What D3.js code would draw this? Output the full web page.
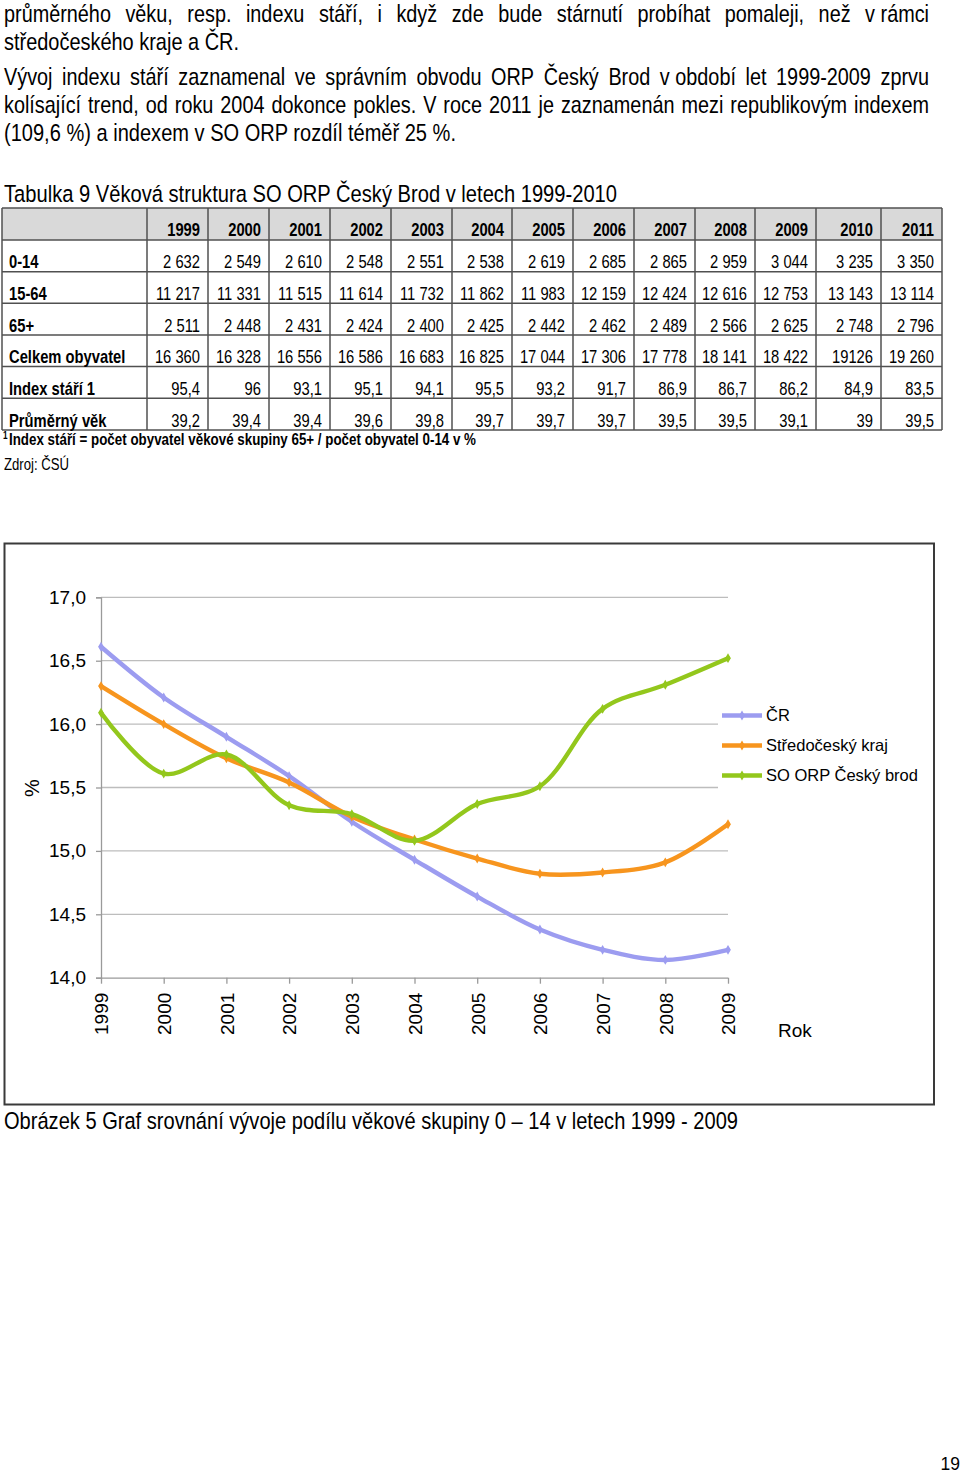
<!DOCTYPE html>
<html><head><meta charset="utf-8">
<script src="https://cdn.jsdelivr.net/npm/d3@7"></script>
<style>
html,body{margin:0;padding:0;background:#fff;}
svg{display:block;}
</style></head><body>
<svg id="page" width="960" height="1477"></svg>
<script>
// ---------- DATA ----------
const paragraphLines = [
  "průměrného věku, resp. indexu stáří, i když zde bude stárnutí probíhat pomaleji, než v\u00a0rámci",
  "středočeského kraje a ČR.",
  "Vývoj indexu stáří zaznamenal ve správním obvodu ORP Český Brod v\u00a0období let 1999-2009 zprvu",
  "kolísající trend, od roku 2004 dokonce pokles. V roce 2011 je zaznamenán mezi republikovým indexem",
  "(109,6 %) a indexem v SO ORP rozdíl téměř 25 %."
];
const tableTitle = "Tabulka 9 Věková struktura SO ORP Český Brod v letech 1999-2010";
const tableYears = ["1999","2000","2001","2002","2003","2004","2005","2006","2007","2008","2009","2010","2011"];
const rowLabels = ["0-14","15-64","65+","Celkem obyvatel","Index stáří 1","Průměrný věk"];
const rowAge0_14 = ["2 632","2 549","2 610","2 548","2 551","2 538","2 619","2 685","2 865","2 959","3 044","3 235","3 350"];
const rowAge15_64 = ["11 217","11 331","11 515","11 614","11 732","11 862","11 983","12 159","12 424","12 616","12 753","13 143","13 114"];
const rowAge65 = ["2 511","2 448","2 431","2 424","2 400","2 425","2 442","2 462","2 489","2 566","2 625","2 748","2 796"];
const rowTotal = ["16 360","16 328","16 556","16 586","16 683","16 825","17 044","17 306","17 778","18 141","18 422","19126","19 260"];
const rowIndex = [95.4, 96, 93.1, 95.1, 94.1, 95.5, 93.2, 91.7, 86.9, 86.7, 86.2, 84.9, 83.5];
const rowAvgAge = [39.2, 39.4, 39.4, 39.6, 39.8, 39.7, 39.7, 39.7, 39.5, 39.5, 39.1, 39, 39.5];
const footnoteMark = "1";
const footnote = "Index stáří = počet obyvatel věkové skupiny 65+ / počet obyvatel 0-14 v %";
const sourceText = "Zdroj: ČSÚ";
const captionText = "Obrázek 5 Graf srovnání vývoje podílu věkové skupiny 0 – 14 v letech 1999 - 2009";
const pageNumber = "19";

const chartYears = ["1999","2000","2001","2002","2003","2004","2005","2006","2007","2008","2009"];
const seriesNames = ["ČR","Středočeský kraj","SO ORP Český brod"];
const crValues  = [16.61,16.21,15.90,15.59,15.23,14.93,14.64,14.38,14.22,14.14,14.22];
const stcValues = [16.30,16.00,15.73,15.54,15.27,15.09,14.94,14.82,14.83,14.91,15.21];
const orpValues = [16.09,15.61,15.76,15.36,15.29,15.08,15.37,15.51,16.12,16.31,16.52];
const seriesColors = ["#9c9cf0","#f7951e","#93c71c"];
const yTicks = [14.0,14.5,15.0,15.5,16.0,16.5,17.0];
const yLabel = "%";
const xLabel = "Rok";

// ---------- HELPERS ----------
const REG = "'Liberation Sans',Arial,sans-serif";
const SX = 0.82; // Arial Narrow ~ Arial scaled horizontally
const svg = d3.select("#page");
svg.append("rect").attr("width",960).attr("height",1477).attr("fill","#fff");

function ntext(parent, x, y, str, size, opts={}){
  const t = parent.append("text")
    .attr("transform",`translate(${x},${y}) scale(${SX},1)`)
    .attr("font-family",REG).attr("font-size",size).attr("fill","#000")
    .attr("text-anchor",opts.anchor||"start")
    .attr("font-weight",opts.bold?"bold":"normal")
    .attr("xml:space","preserve");
  t.text(str);
  if (opts.width) t.attr("textLength", opts.width/SX).attr("lengthAdjust","spacingAndGlyphs");
  return t;
}
function justified(parent, x, y, str, size, width){
  const t = parent.append("text")
    .attr("transform",`translate(${x},${y}) scale(${SX},1)`)
    .attr("font-family",REG).attr("font-size",size).attr("fill","#000")
    .attr("xml:space","preserve");
  const words = str.split(" ");
  const spans = words.map(w=>t.append("tspan").attr("x",0).text(w));
  const widths = spans.map(s=>s.node().getComputedTextLength());
  const total = d3.sum(widths);
  const minGap = size*0.2;
  let gap = (width/SX - total)/(words.length-1);
  let k = 1;
  if (gap < minGap) { gap = minGap; k = (width/SX)/(total + gap*(words.length-1)); }
  let cx = 0;
  spans.forEach((s,i)=>{ s.attr("x",cx*k); cx += widths[i] + gap; });
  if (k !== 1) t.attr("transform",`translate(${x},${y}) scale(${SX*k},1)`).selectAll("tspan").attr("x",function(){return +this.getAttribute("x")/k;});
  return t;
}

// ---------- TEXT ----------
const PARA = 24.2;
const paraBase = [22, 50, 85, 113, 141];
const paraWidth = [925, 235, 925, 925, 452];
const paraJust = [true, false, true, true, false];
paragraphLines.forEach((s,i)=>{
  if (paraJust[i]) justified(svg, 4, paraBase[i], s, PARA, paraWidth[i]);
  else ntext(svg, 4, paraBase[i], s, PARA, {width: paraWidth[i]});
});

ntext(svg, 4, 202, tableTitle, 23.5, {width: 613});

// ---------- TABLE ----------
const colX = [2,147,208,269,330,391,452,512,573,634,695,755,816,881,942];
const rowY = [208,240,271.7,303.3,335,366.5,398.3,430];
const fmtDec = v => String(v).replace(".", ",");
const rows = [rowAge0_14, rowAge15_64, rowAge65, rowTotal, rowIndex.map(fmtDec), rowAvgAge.map(fmtDec)];
const tbl = svg.append("g");
tbl.append("rect").attr("x",colX[0]).attr("y",rowY[0]).attr("width",colX[colX.length-1]-colX[0])
  .attr("height",rowY[1]-rowY[0]).attr("fill","#d9d9d9");
rowY.forEach(y=>tbl.append("line").attr("x1",colX[0]).attr("x2",colX[colX.length-1])
  .attr("y1",y).attr("y2",y).attr("stroke","#505050").attr("stroke-width",1.5));
colX.forEach(x=>tbl.append("line").attr("x1",x).attr("x2",x)
  .attr("y1",rowY[0]).attr("y2",rowY[rowY.length-1]).attr("stroke","#505050").attr("stroke-width",1.5));
tableYears.forEach((yr,i)=>{
  ntext(tbl, colX[i+2]-8, rowY[1]-4, yr, 18, {anchor:"end", bold:true});
});
rowLabels.forEach((lab,r)=>{
  const yb = rowY[r+2]-3.5;
  ntext(tbl, 9, yb, lab, 18, {bold:true});
  rows[r].forEach((v,i)=>{
    ntext(tbl, colX[i+2]-8, yb, v, 18, {anchor:"end"});
  });
});
ntext(svg, 3, 439, footnoteMark, 10, {bold:true});
ntext(svg, 9, 445, footnote, 16.5, {bold:true, width: 467});
ntext(svg, 4, 470, sourceText, 16, {width: 65});

// ---------- CHART ----------
svg.append("rect").attr("x",4.5).attr("y",543.5).attr("width",929.5).attr("height",561)
  .attr("fill","#fff").attr("stroke","#3a3a3a").attr("stroke-width",2);

const x = d3.scalePoint().domain(chartYears).range([101, 728]);
const y = d3.scaleLinear().domain([14,17]).range([977.7, 597.3]);

const gGrid = svg.append("g");
yTicks.filter(v=>v>14).forEach(v=>{
  gGrid.append("line").attr("x1",101).attr("x2",728).attr("y1",y(v)).attr("y2",y(v))
    .attr("stroke","#bdbdbd").attr("stroke-width",1.3);
});

const yAxis = d3.axisLeft(y).tickValues(yTicks).tickSize(5).tickPadding(10)
  .tickFormat(d=>d3.format(".1f")(d).replace(".",","));
const gy = svg.append("g").attr("transform","translate(101,0)").call(yAxis);
gy.select(".domain").attr("stroke","#9a9a9a").attr("stroke-width",1.3);
gy.selectAll(".tick line").attr("stroke","#9a9a9a").attr("stroke-width",1.3);
gy.selectAll(".tick text").attr("font-family",REG).attr("font-size",19).attr("fill","#000");

const xAxis = d3.axisBottom(x).tickSize(6).tickSizeOuter(0);
const gx = svg.append("g").attr("transform","translate(0,977.7)").call(xAxis);
gx.select(".domain").attr("stroke","#9a9a9a").attr("stroke-width",1.3).attr("d","M101,0.5H728");
gx.selectAll(".tick line").attr("stroke","#9a9a9a").attr("stroke-width",1.3);
gx.selectAll(".tick text").attr("font-family",REG).attr("font-size",19).attr("fill","#000")
  .attr("text-anchor","end").attr("transform","translate(0,15) rotate(-90)")
  .attr("x",0).attr("y",0).attr("dy","0.36em");

svg.append("text").attr("transform","translate(32,788) rotate(-90)").attr("text-anchor","middle")
  .attr("dy","0.35em").attr("font-family",REG).attr("font-size",20).text(yLabel);
svg.append("text").attr("x",778).attr("y",1037).attr("font-family",REG).attr("font-size",19).text(xLabel);

const allSeries = [crValues, stcValues, orpValues];
const line = d3.line().x((d,i)=>x(chartYears[i])).y(d=>y(d)).curve(d3.curveCatmullRom.alpha(0.5));
const diamond = d3.symbol().type(d3.symbolDiamond).size(28);
allSeries.forEach((vals,k)=>{
  const g = svg.append("g");
  g.append("path").attr("d",line(vals)).attr("fill","none").attr("stroke",seriesColors[k])
    .attr("stroke-width",4.4).attr("stroke-linejoin","round").attr("stroke-linecap","round");
  g.selectAll("path.m").data(vals).join("path").attr("class","m")
    .attr("transform",(d,i)=>`translate(${x(chartYears[i])},${y(d)})`)
    .attr("d",diamond).attr("fill",seriesColors[k]);
});

const lg = svg.append("g");
lg.append("rect").attr("x",718).attr("y",700).attr("width",205).attr("height",92).attr("fill","#fff");
seriesNames.forEach((nm,k)=>{
  const yy = 715.5 + k*30;
  lg.append("line").attr("x1",722).attr("x2",762).attr("y1",yy).attr("y2",yy)
    .attr("stroke",seriesColors[k]).attr("stroke-width",4.4);
  lg.append("path").attr("transform",`translate(742,${yy})`).attr("d",diamond).attr("fill",seriesColors[k]);
  lg.append("text").attr("x",766).attr("y",yy).attr("dy","0.36em").attr("font-family",REG)
    .attr("font-size",16.5).text(nm);
});

ntext(svg, 4, 1129, captionText, 24.5, {width: 734});
svg.append("text").attr("x",960).attr("y",1470).attr("text-anchor","end").attr("font-family",REG)
  .attr("font-size",17.5).text(pageNumber);
</script>
</body></html>
